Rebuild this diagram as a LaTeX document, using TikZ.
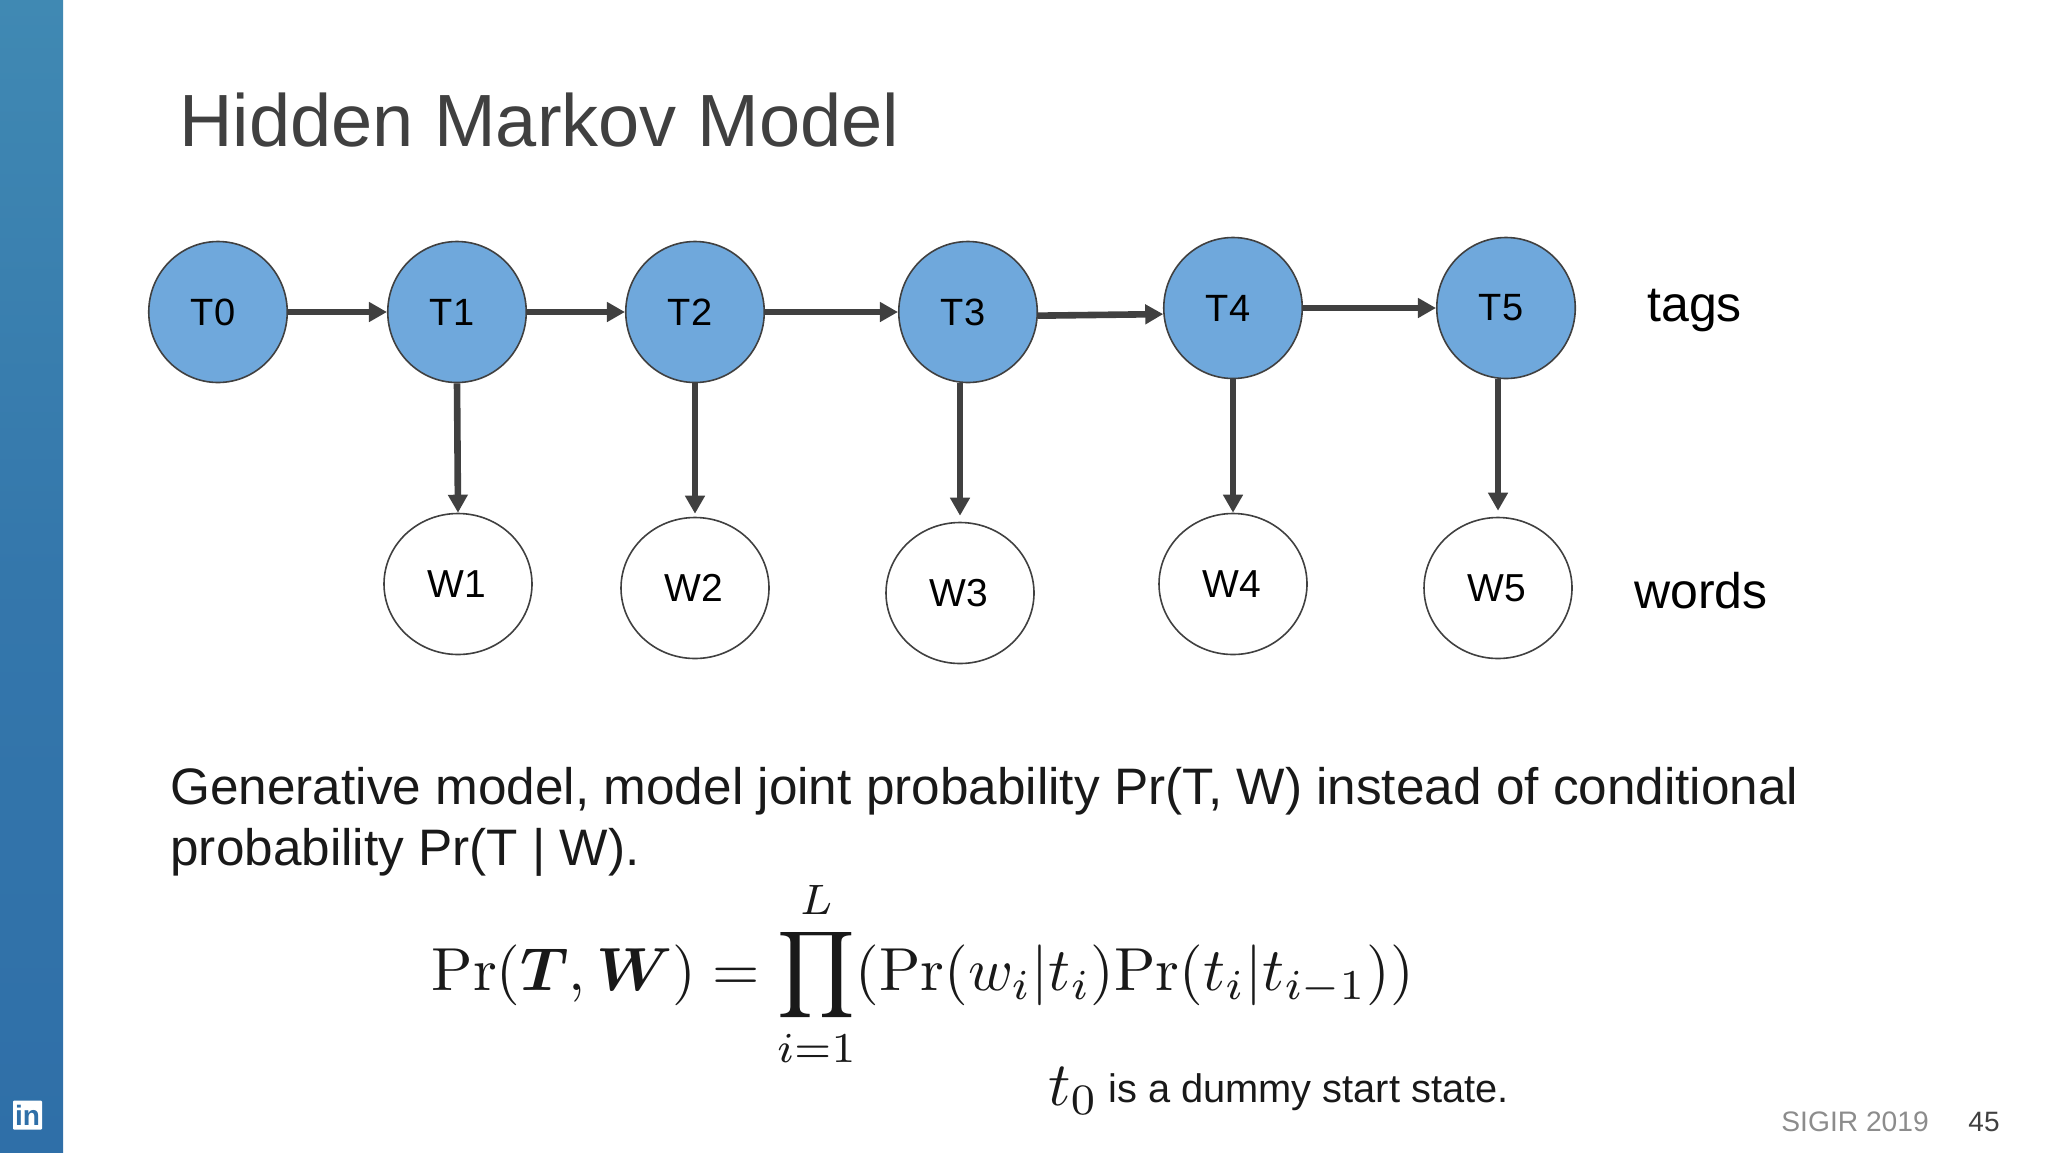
\documentclass[tikz,border=0pt]{standalone}
\usepackage{amsfonts, amsmath, amssymb}
\usepackage[no-math]{fontspec}
\setmainfont{Liberation Sans}
\usetikzlibrary{arrows.meta,shapes.geometric}
\definecolor{tagblue}{HTML}{6FA8DC}
\definecolor{slidegray}{HTML}{404040}
\definecolor{barblue}{HTML}{2F6FA8}
\definecolor{bartop}{HTML}{4089B3}
\tikzset{
  tag/.style={ellipse,draw=slidegray,line width=0.8pt,fill=tagblue,minimum width=138.5pt/2,minimum height=141pt/2,inner sep=0pt,font=\fontsize{19}{23}\selectfont,execute at end node={\kern 5pt}},
  word/.style={ellipse,draw=slidegray,line width=0.8pt,fill=white,minimum width=148pt/2,minimum height=141pt/2,inner sep=0pt,font=\fontsize{19.5}{23}\selectfont,execute at end node={\kern 1.5pt}},
  link/.style={draw=slidegray,line width=3.3pt,-{Triangle[length=9pt,width=9.5pt]}},
  words/.style={anchor=base west,inner sep=0pt,font=\fontsize{25.65}{30}\selectfont,text=black!90},
  rowname/.style={anchor=base west,inner sep=0pt,font=\fontsize{25}{30}\selectfont,text=black},
}
\begin{document}
\begin{tikzpicture}[x=0.5pt,y=-0.5pt]
\useasboundingbox (0,0) rectangle (2048,1152);
% side bar
\shade[top color=bartop,bottom color=barblue,middle color=barblue!70!bartop] (0,0) rectangle (63,1152);
\node[fill=white,rounded corners=0.5pt,text=barblue,minimum size=14.5pt,inner sep=0pt,font=\bfseries\fontsize{14}{14}\selectfont] (logo) at (27.5,1115) {in};
% title
\node[anchor=base west,inner sep=0pt,text=slidegray,font=\fontsize{37}{44}\selectfont] (title) at (179,146) {Hidden Markov Model};
% tags
\node[tag] (t0) at (218,312) {T0};
\node[tag] (t1) at (457,312) {T1};
\node[tag] (t2) at (695,312) {T2};
\node[tag] (t3) at (968,312) {T3};
\node[tag] (t4) at (1233,308) {T4};
\node[tag] (t5) at (1506,308) {T5};
% words
\node[word] (w1) at (458,584) {W1};
\node[word] (w2) at (695,588) {W2};
\node[word] (w3) at (960,593) {W3};
\node[word] (w4) at (1233,584) {W4};
\node[word] (w5) at (1498,588) {W5};
% arrows
\draw[link] (t0) -- (t1);
\draw[link] (t1) -- (t2);
\draw[link] (t2) -- (t3);
\draw[link] (t3.-3) -- (t4.185);
\draw[link] (t4) -- (t5);
\draw[link] (t1.south) -- (w1.north);
\draw[link,shorten >=1.5pt] (t2.south) -- (w2.north);
\draw[link,shorten >=3pt] (w3.north |- t3.south) -- (w3.north);
\draw[link] (t4.south) -- (w4.north);
\draw[link,shorten >=3pt] (w5.north |- t5.south) -- (w5.north);
% row names
\node[rowname] (tags) at (1647,321) {tags};
\node[rowname] (wordsname) at (1634,608) {words};
% text
\node[words] (line1) at (170,804) {Generative model, model joint probability Pr(T, W) instead of conditional};
\node[words] (line2) at (170,865) {probability Pr(T | W).};
\node[inner sep=0pt,scale=3.04,text=black!90] (formula) at (923,974) {$\displaystyle \mathrm{Pr}(\boldsymbol{T},\boldsymbol{W})=\prod_{i=1}^{L}(\mathrm{Pr}(w_i|t_i)\mathrm{Pr}(t_i|t_{i-1}))$};
\node[inner sep=0pt,scale=3.1,anchor=base west,text=black!90] (t0note) at (1047,1105) {$t_0$};
\node[anchor=base west,inner sep=0pt,text=black!90,font=\fontsize{19.9}{24}\selectfont] (note) at (1108,1102) {is a dummy start state.};
% footer
\node[anchor=base west,inner sep=0pt,text=black!45,font=\fontsize{14.1}{17}\selectfont] (venue) at (1781,1131) {SIGIR 2019};
\node[anchor=base west,inner sep=0pt,text=slidegray,font=\fontsize{14}{17}\selectfont] (page) at (1968,1131) {45};
\end{tikzpicture}
\end{document}
